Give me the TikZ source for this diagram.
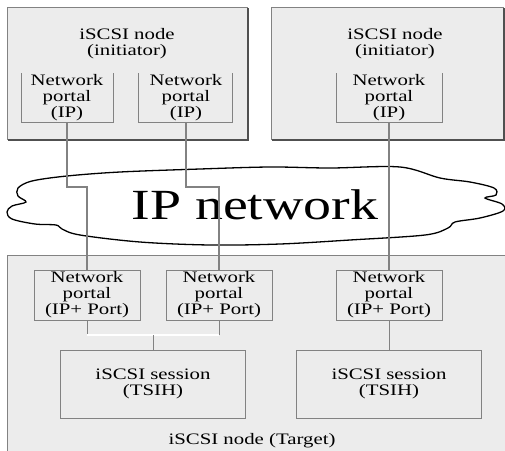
\documentclass[tikz,border=0pt]{standalone}
\usepackage{fontspec}
\setmainfont[FakeStretch=1.3]{Liberation Serif}
\usetikzlibrary{backgrounds}
\definecolor{boxfill}{RGB}{236, 236, 236}
\definecolor{edge}{RGB}{130, 130, 130}
\definecolor{dropline}{RGB}{80, 80, 80}

\begin{document}
\begin{tikzpicture}[x=1pt, y=-1pt, thick,
  txt/.style={font=\fontsize{16}{16}\selectfont, align=center, inner sep=0pt},
  link/.style={edge, line width=1.6pt}]
  \useasboundingbox[fill=white] (0, 0) rectangle (505, 450);

  % initiator nodes
  \fill[boxfill] (7, 7) rectangle (247, 139);
  \draw[edge, line width=0.8pt] (247, 139) -- (7, 139) -- (7, 7) -- (247, 7) -- cycle;
  \draw[dropline, line width=1.4pt] (8, 140) -- (248, 140) -- (248, 8);
  \node[txt] (initA) at (127, 44) {iSCSI node\\(initiator)};

  \fill[boxfill] (271, 7) rectangle (503, 139);
  \draw[edge, line width=0.8pt] (503, 139) -- (271, 139) -- (271, 7) -- (503, 7) -- cycle;
  \draw[dropline, line width=1.4pt] (272, 140) -- (504, 140) -- (504, 8);
  \node[txt] (initB) at (395, 44) {iSCSI node\\(initiator)};

  % initiator portals (open at the top)
  \draw[edge, line width=0.8pt] (21, 73) -- (21, 122) -- (113, 122) -- (113, 73);
  \node[txt] (ipA) at (67, 98) {Network\\portal\\(IP)};
  \draw[edge, line width=0.8pt] (138, 73) -- (138, 122) -- (232, 122) -- (232, 73);
  \node[txt] (ipB) at (186, 98) {Network\\portal\\(IP)};
  \draw[edge, line width=0.8pt] (336, 73) -- (336, 122) -- (442, 122) -- (442, 73);
  \node[txt] (ipC) at (389, 98) {Network\\portal\\(IP)};
  \coordinate (ipAb) at (67, 122);
  \coordinate (ipBb) at (186, 122);
  \coordinate (ipCb) at (389, 122);

  % IP network cloud
  \draw[black, line width=1.3pt, fill=white] plot[smooth cycle, tension=0.55] coordinates {
    (67, 176) (120, 172) (200, 169) (270, 167) (330, 168) (400, 167) (440, 178)
    (470, 182) (494, 188) (496, 195) (485, 198) (502, 204) (503, 211) (480, 218)
    (455, 222) (448, 228) (425, 235) (350, 240) (280, 244) (210, 245) (140, 242)
    (80, 235) (62, 229) (56, 225) (35, 224) (12, 219) (7, 212) (12, 206) (26, 202)
    (18, 196) (18, 188) (32, 181)};
  \node[font=\fontsize{43}{43}\selectfont, inner sep=0pt] (net) at (255, 205) {IP network};

  % target node
  \fill[boxfill] (7, 255) rectangle (505, 452);
  \draw[edge, line width=0.8pt] (505, 255) -- (7, 255) -- (7, 452);
  \node[txt] (target) at (252, 441) {iSCSI node (Target)};

  % target portals
  \node[txt, draw=edge, line width=0.8pt, minimum width=106pt, minimum height=50pt] (tpA) at (87, 295) {Network\\portal\\(IP+ Port)};
  \node[txt, draw=edge, line width=0.8pt, minimum width=106pt, minimum height=50pt] (tpB) at (219, 295) {Network\\portal\\(IP+ Port)};
  \node[txt, draw=edge, line width=0.8pt, minimum width=106pt, minimum height=50pt] (tpC) at (389, 295) {Network\\portal\\(IP+ Port)};

  % sessions
  \node[txt, draw=edge, line width=0.8pt, minimum width=185pt, minimum height=68pt] (sesA) at (153, 384) {iSCSI session\\(TSIH)};
  \node[txt, draw=edge, line width=0.8pt, minimum width=185pt, minimum height=68pt] (sesB) at (389, 384) {iSCSI session\\(TSIH)};

  % links through the network
  \coordinate (jog) at (0, 187);
  \draw[link] (ipAb) -- (ipAb |- jog) -- (tpA.north |- jog) -- (tpA.north);
  \draw[link] (ipBb) -- (ipBb |- jog) -- (tpB.north |- jog) -- (tpB.north);
  \draw[link] (ipCb) -- (tpC.north);

  % links inside the target
  \coordinate (bus) at (153, 335);
  \draw[edge, line width=0.8pt] (tpA.south) -- (tpA.south |- bus);
  \draw[edge, line width=0.8pt] (tpB.south) -- (tpB.south |- bus);
  \draw[white, line width=1.2pt] (tpA.south |- bus) -- (tpB.south |- bus);
  \draw[edge, line width=0.8pt] (bus) -- (sesA.north);
  \draw[edge, line width=0.8pt] (tpC.south) -- (sesB.north);
\end{tikzpicture}
\end{document}
